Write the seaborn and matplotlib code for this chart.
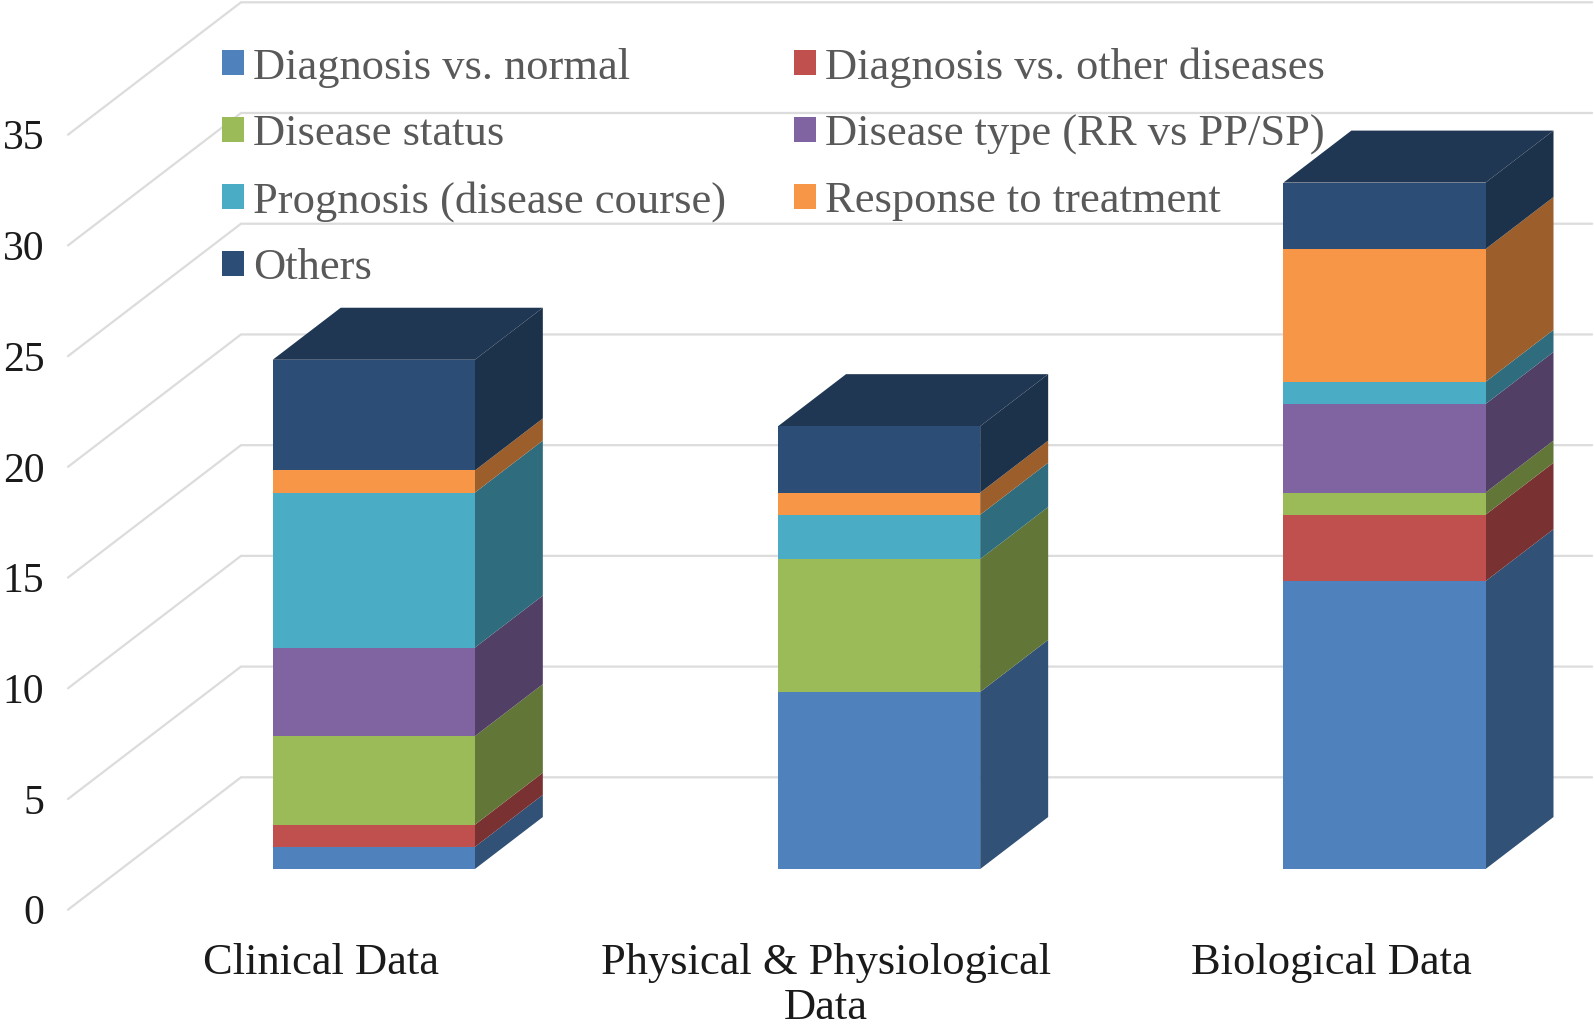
import numpy as np
import pandas as pd
import seaborn as sns
import matplotlib.pyplot as plt
from matplotlib.patches import Patch
from matplotlib.colors import to_rgb

# chart values
categories = ['Clinical Data', 'Physical & Physiological\nData', 'Biological Data']
normal = [1, 8, 13]
other_diseases = [1, 0, 3]
status = [4, 6, 1]
dis_type = [4, 0, 4]
prognosis = [7, 2, 1]
response = [1, 1, 6]
others = [5, 3, 3]

series_names = ['Diagnosis vs. normal', 'Diagnosis vs. other diseases', 'Disease status',
                'Disease type (RR vs PP/SP)', 'Prognosis (disease course)',
                'Response to treatment', 'Others']
series_values = [normal, other_diseases, status, dis_type, prognosis, response, others]
colors = ['#4F81BD', '#C0504D', '#9BBB59', '#8064A2', '#4BACC6', '#F79646', '#2C4D75']
y_ticks = [0, 5, 10, 15, 20, 25, 30, 35]

W, H = 1594, 1028
sns.set_theme(style='white')
plt.rcParams['font.family'] = ['Liberation Serif', 'DejaVu Serif']

fig = plt.figure(figsize=(W / 100, H / 100), dpi=100)
# axes = the front plane of the fake 3d box
ax = fig.add_axes([68 / W, 1 - 909.7 / H, 1516 / W, 775 / H])
ax.set_xlim(-0.5, 2.5)
ax.set_ylim(0, 35)

# depth of the box in data units
DX = 173 / (1516 / 3)
DY = 132.4 / (775 / 35)
BAR_FRONT = 0.307
BAR_BACK = 0.70
BAR_W = 0.40
RIGHT_END = 2.516


def shade(c, f):
    return tuple(v * f for v in to_rgb(c))


# gridlines on side wall + back wall
for v in y_ticks:
    ax.plot([-0.5, -0.5 + DX, RIGHT_END], [v, v + DY, v + DY], color='#dcdcdc', lw=1.6,
            clip_on=False, zorder=1, solid_joinstyle='miter')

df = pd.DataFrame({'cat': categories})
bottom = np.zeros(3)
for name, vals, c in zip(series_names, series_values, colors):
    vals = np.array(vals, dtype=float)
    n_before = len(ax.patches)
    sns.barplot(data=df.assign(val=vals), x='cat', y='val', order=categories, color=c,
                saturation=1, width=BAR_W, errorbar=None, ax=ax,
                bottom=bottom + BAR_FRONT * DY, linewidth=0, zorder=4, clip_on=False)
    # move front faces back to where the bars stand
    for p in ax.patches[n_before:]:
        p.set_x(p.get_x() + BAR_FRONT * DX)
    # right side faces
    for i in range(3):
        if vals[i] == 0:
            continue
        x0 = i + BAR_W / 2 + BAR_FRONT * DX
        x1 = i + BAR_W / 2 + BAR_BACK * DX
        y0 = bottom[i] + BAR_FRONT * DY
        y1 = bottom[i] + BAR_BACK * DY
        ax.fill([x0, x1, x1, x0], [y0, y1, y1 + vals[i], y0 + vals[i]],
                color=shade(c, 0.63), lw=0, zorder=3, clip_on=False)
    bottom = bottom + vals

# lids on top of the stacks
for i in range(3):
    xl = i - BAR_W / 2
    xr = i + BAR_W / 2
    y0 = bottom[i] + BAR_FRONT * DY
    y1 = bottom[i] + BAR_BACK * DY
    ax.fill([xl + BAR_FRONT * DX, xr + BAR_FRONT * DX, xr + BAR_BACK * DX, xl + BAR_BACK * DX],
            [y0, y0, y1, y1], color=shade(colors[-1], 0.72), lw=0, zorder=3, clip_on=False)

ax.patch.set_visible(False)
sns.despine(ax=ax, left=True, bottom=True)
ax.set_xlabel('')
ax.set_ylabel('')
ax.set_yticks(y_ticks)
ax.set_xticks(range(3))
ax.set_xticklabels(categories, linespacing=1.15)
ax.tick_params(axis='y', length=0, pad=17, labelsize=30, labelcolor='#1a1a1a')
ax.tick_params(axis='x', length=0, pad=24, labelsize=32, labelcolor='#1a1a1a')

handles = [Patch(facecolor=c, edgecolor='none') for c in colors]
# legend fills column by column, so reorder to get the row order of the picture
order = [0, 2, 4, 6, 1, 3, 5]
leg = ax.legend([handles[i] for i in order], [series_names[i] for i in order],
                ncols=2, loc='upper left', bbox_to_anchor=(222 / W, 1 - 47 / H),
                bbox_transform=fig.transFigure, frameon=False, fontsize=32,
                labelcolor='#595959', handlelength=0.5, handleheight=0.48,
                handletextpad=0.2, labelspacing=0.6, columnspacing=1.52,
                borderpad=0, borderaxespad=0)
leg.set_zorder(6)

fig.savefig('out.png', dpi=100, facecolor='white')
